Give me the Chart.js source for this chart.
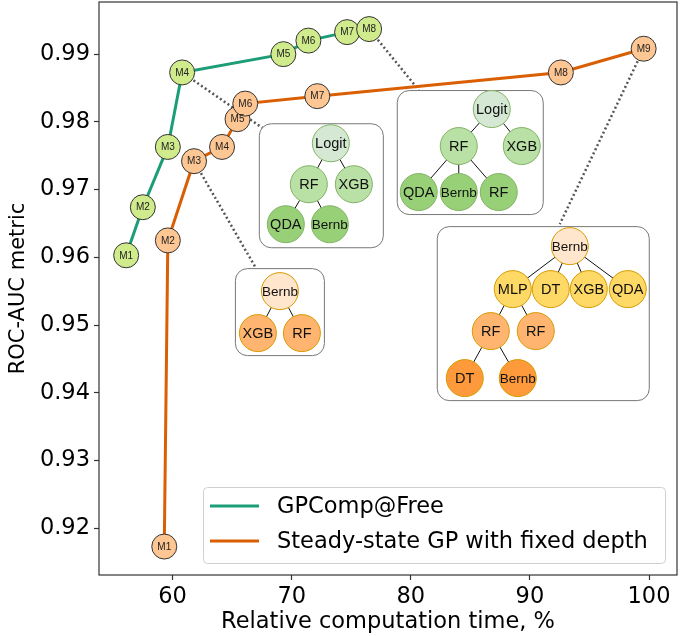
<!DOCTYPE html>
<html>
<head>
<meta charset="utf-8">
<script src="https://cdn.jsdelivr.net/npm/chart.js@4.4.1/dist/chart.umd.min.js"></script>
<style>
  html, body { margin: 0; padding: 0; background: #fff; }
  #wrap { width: 689px; height: 636px; }
</style>
</head>
<body>
<div id="wrap"><canvas id="chart" width="689" height="636"></canvas></div>
<script>
// GPComp@Free
const freeNames = ['M1', 'M2', 'M3', 'M4', 'M5', 'M6', 'M7', 'M8'];
const freeTime = [56.1, 57.5, 59.6, 60.8, 69.3, 71.4, 74.65, 76.5];
const freeAuc = [0.9603, 0.9674, 0.9763, 0.9873, 0.9900, 0.9920, 0.99325, 0.9937];

// Steady-state GP with fixed depth
const fixedNames = ['M1', 'M2', 'M3', 'M4', 'M5', 'M6', 'M7', 'M8', 'M9'];
const fixedTime = [59.3, 59.6, 61.8, 64.15, 65.45, 66.1, 72.15, 92.6, 99.55];
const fixedAuc = [0.9173, 0.9625, 0.9742, 0.9763, 0.9804, 0.9827, 0.9838, 0.9873, 0.9908];

const xTicks = [60, 70, 80, 90, 100];
const yTicks = [0.92, 0.93, 0.94, 0.95, 0.96, 0.97, 0.98, 0.99];

const GREEN = '#1b9e77';
const ORANGE = '#d95f02';

// tree insets: box anchored at top-left in data units, nodes offset in px from that corner
const g1 = '#d5e8d4', g2 = '#b9e0a5', g3 = '#97d077', gs = '#82b366';
const o1 = '#ffe6cc', o2 = '#ffd966', o3 = '#ffb570', o4 = '#ff9a3c', os = '#d79b00';
const insets = [
  { from: [0, 3], at: [67.24, 0.9798], w: 124, h: 124, hook: [4, 5],
    nodes: [['Logit', 72, 20, g1, gs], ['RF', 50, 61, g2, gs], ['XGB', 95, 61, g2, gs],
            ['QDA', 27, 101, g3, gs], ['Bernb', 71, 101, g3, gs]],
    edges: [[0, 1], [0, 2], [1, 3], [1, 4]] },
  { from: [1, 2], at: [65.23, 0.95841], w: 89, h: 87, hook: [21, 0],
    nodes: [['Bernb', 45, 23, o1, os], ['XGB', 23, 65, o3, os], ['RF', 67, 65, o3, os]],
    edges: [[0, 1], [0, 2]] },
  { from: [0, 7], at: [78.82, 0.9847], w: 146, h: 124, hook: [22, 0],
    nodes: [['Logit', 95, 19, g1, gs], ['RF', 62, 56, g2, gs], ['XGB', 125, 56, g2, gs],
            ['QDA', 22, 102, g3, gs], ['Bernb', 62, 102, g3, gs], ['RF', 102, 102, g3, gs]],
    edges: [[0, 1], [0, 2], [1, 3], [1, 4], [1, 5]] },
  { from: [1, 8], at: [82.18, 0.96461], w: 212, h: 174, hook: [123, -2],
    nodes: [['Bernb', 133, 20, o1, os], ['MLP', 76, 63, o2, os], ['DT', 114, 63, o2, os],
            ['XGB', 152, 63, o2, os], ['QDA', 191, 63, o2, os], ['RF', 54, 105, o3, os],
            ['RF', 99, 105, o3, os], ['DT', 28, 152, o4, os], ['Bernb', 81, 152, o4, os]],
    edges: [[0, 1], [0, 2], [0, 3], [0, 4], [1, 5], [1, 6], [5, 7], [5, 8]] }
];

function roundRect(ctx, x, y, w, h, r) {
  ctx.beginPath();
  ctx.moveTo(x + r, y);
  ctx.arcTo(x + w, y, x + w, y + h, r);
  ctx.arcTo(x + w, y + h, x, y + h, r);
  ctx.arcTo(x, y + h, x, y, r);
  ctx.arcTo(x, y, x + w, y, r);
  ctx.closePath();
}

function insetOrigin(chart, ins) {
  return [chart.scales.x.getPixelForValue(ins.at[0]), chart.scales.y.getPixelForValue(ins.at[1])];
}

const decor = {
  id: 'decor',
  beforeDatasetsDraw(chart) {
    const ctx = chart.ctx;
    ctx.save();
    ctx.strokeStyle = '#555';
    ctx.lineWidth = 2.5;
    ctx.setLineDash([2, 2.6]);
    insets.forEach(ins => {
      const p = chart.getDatasetMeta(ins.from[0]).data[ins.from[1]];
      const [ox, oy] = insetOrigin(chart, ins);
      ctx.beginPath();
      ctx.moveTo(p.x, p.y);
      ctx.lineTo(ox + ins.hook[0], oy + ins.hook[1]);
      ctx.stroke();
    });
    ctx.restore();
  },
  afterDatasetsDraw(chart) {
    const ctx = chart.ctx;
    const a = chart.chartArea;
    ctx.save();
    // point names
    ctx.font = '10px "Liberation Sans", Arial, sans-serif';
    ctx.fillStyle = '#222';
    ctx.textAlign = 'center';
    ctx.textBaseline = 'middle';
    chart.data.datasets.forEach((ds, i) => {
      chart.getDatasetMeta(i).data.forEach((pt, j) => {
        ctx.fillText(ds.names[j], pt.x, pt.y + 0.5);
      });
    });

    // tree insets
    insets.forEach(ins => {
      const [ox, oy] = insetOrigin(chart, ins);
      roundRect(ctx, ox + 0.5, oy + 0.5, ins.w, ins.h, 12);
      ctx.fillStyle = '#fff';
      ctx.fill();
      ctx.strokeStyle = '#777';
      ctx.lineWidth = 1;
      ctx.stroke();
      ctx.strokeStyle = '#111';
      ctx.lineWidth = 1;
      ins.edges.forEach(([s, t]) => {
        const n1 = ins.nodes[s], n2 = ins.nodes[t];
        ctx.beginPath();
        ctx.moveTo(ox + n1[1], oy + n1[2]);
        ctx.lineTo(ox + n2[1], oy + n2[2]);
        ctx.stroke();
      });
      ins.nodes.forEach(n => {
        ctx.beginPath();
        ctx.arc(ox + n[1], oy + n[2], 18.5, 0, Math.PI * 2);
        ctx.fillStyle = n[3];
        ctx.fill();
        ctx.strokeStyle = n[4];
        ctx.lineWidth = 1;
        ctx.stroke();
        ctx.fillStyle = '#111';
        ctx.font = (n[0] === 'Bernb' ? '13.5px' : '14.5px') + ' "Liberation Sans", Arial, sans-serif';
        ctx.fillText(n[0], ox + n[1], oy + n[2] + 1);
      });
    });

    // legend
    const lw = 462, lh = 76;
    const lx = a.right - 12 - lw, ly = a.bottom - 12 - lh;
    roundRect(ctx, lx + 0.5, ly + 0.5, lw, lh, 4);
    ctx.fillStyle = 'rgba(255,255,255,0.85)';
    ctx.fill();
    ctx.strokeStyle = '#d0d0d0';
    ctx.lineWidth = 1;
    ctx.stroke();
    ctx.textAlign = 'left';
    ctx.font = '22.5px "DejaVu Sans", sans-serif';
    chart.data.datasets.forEach((ds, i) => {
      const y = ly + 19 + i * 35;
      ctx.strokeStyle = ds.borderColor;
      ctx.lineWidth = 3;
      ctx.beginPath();
      ctx.moveTo(lx + 7, y);
      ctx.lineTo(lx + 56, y);
      ctx.stroke();
      ctx.fillStyle = '#000';
      ctx.fillText(ds.label, lx + 74, y + 1);
    });

    // axes frame
    ctx.strokeStyle = '#333';
    ctx.lineWidth = 1.2;
    ctx.strokeRect(a.left, a.top, a.right - a.left, a.bottom - a.top);
    ctx.restore();
  }
};

const toPts = (xs, ys) => xs.map((x, i) => ({ x: x, y: ys[i] }));

new Chart(document.getElementById('chart'), {
  type: 'scatter',
  data: {
    datasets: [{
      label: 'GPComp@Free',
      names: freeNames,
      data: toPts(freeTime, freeAuc),
      showLine: true,
      borderColor: GREEN,
      borderWidth: 3,
      pointRadius: 12.5,
      pointBackgroundColor: '#cfeb8c',
      pointBorderColor: '#333',
      pointBorderWidth: 1,
      clip: false
    }, {
      label: 'Steady-state GP with fixed depth',
      names: fixedNames,
      data: toPts(fixedTime, fixedAuc),
      showLine: true,
      borderColor: ORANGE,
      borderWidth: 3,
      pointRadius: 12.5,
      pointBackgroundColor: '#fdc692',
      pointBorderColor: '#333',
      pointBorderWidth: 1,
      clip: false
    }]
  },
  options: {
    responsive: false,
    animation: false,
    devicePixelRatio: 1,
    layout: { autoPadding: false, padding: { top: 2, right: 12, left: 0, bottom: 0 } },
    plugins: { legend: { display: false }, tooltip: { enabled: false } },
    scales: {
      x: {
        type: 'linear',
        min: 53.82,
        max: 102.35,
        afterFit: s => { s.height = 61; s.paddingLeft = 0; s.paddingRight = 0; },
        afterBuildTicks: s => { s.ticks = xTicks.map(v => ({ value: v })); },
        grid: { drawOnChartArea: false, tickLength: 5, tickColor: '#333', tickWidth: 1.2 },
        border: { display: false },
        ticks: { color: '#000', padding: 4, font: { family: 'DejaVu Sans', size: 22.5 } },
        title: { display: true, text: 'Relative computation time, %', color: '#000',
                 font: { family: 'DejaVu Sans', size: 22.5 }, padding: { top: 0, bottom: 0 } }
      },
      y: {
        type: 'linear',
        min: 0.9131,
        max: 0.9977,
        afterFit: s => { s.width = 99; s.paddingTop = 0; s.paddingBottom = 0; },
        afterBuildTicks: s => { s.ticks = yTicks.map(v => ({ value: v })); },
        grid: { drawOnChartArea: false, tickLength: 5, tickColor: '#333', tickWidth: 1.2 },
        border: { display: false },
        ticks: { color: '#000', padding: 4, font: { family: 'DejaVu Sans', size: 22.5 },
                 callback: v => v.toFixed(2) },
        title: { display: true, text: 'ROC-AUC metric', color: '#000',
                 font: { family: 'DejaVu Sans', size: 21 }, padding: { top: 6, bottom: 0 } }
      }
    }
  },
  plugins: [decor]
});
</script>
</body>
</html>
